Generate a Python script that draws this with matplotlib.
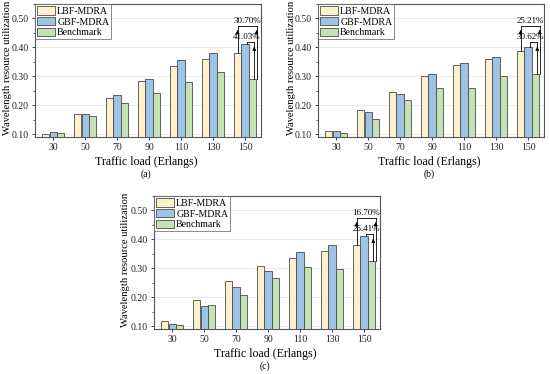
import matplotlib
matplotlib.use("Agg")
import matplotlib.pyplot as plt
from matplotlib.ticker import MultipleLocator
import numpy as np

plt.rcParams['font.family'] = ['Liberation Serif', 'DejaVu Serif']

categories = ['30', '50', '70', '90', '110', '130', '150']
series_names = ['LBF-MDRA', 'GBF-MDRA', 'Benchmark']

a_lbf = [0.100, 0.170, 0.226, 0.285, 0.334, 0.361, 0.382]
a_gbf = [0.106, 0.168, 0.235, 0.292, 0.357, 0.382, 0.410]
a_ben = [0.104, 0.162, 0.208, 0.243, 0.281, 0.314, 0.291]

b_lbf = [0.110, 0.182, 0.245, 0.302, 0.339, 0.360, 0.386]
b_gbf = [0.110, 0.176, 0.238, 0.309, 0.346, 0.368, 0.402]
b_ben = [0.104, 0.153, 0.219, 0.261, 0.259, 0.301, 0.308]

c_lbf = [0.118, 0.189, 0.257, 0.309, 0.336, 0.360, 0.380]
c_gbf = [0.106, 0.168, 0.234, 0.292, 0.356, 0.382, 0.410]
c_ben = [0.105, 0.172, 0.207, 0.267, 0.303, 0.296, 0.325]

a_notes = ['30.70%', '41.03%']
b_notes = ['25.21%', '30.62%']
c_notes = ['16.70%', '26.41%']

colors = ['#fdf1cc', '#9fc3e4', '#c6e2b4']
edge = '#4a4a4a'

W, H = 550, 374
fig = plt.figure(figsize=(5.5, 3.74), dpi=100)


def panel(left_px, top_px, data, notes, letter, ylab_x_px):
    width_px, height_px = 226, 133
    ax = fig.add_axes([left_px / W, (H - top_px - height_px) / H, width_px / W, height_px / H])
    x = np.arange(len(categories))
    bw = 0.23
    off = 0.235
    for i, (vals, c, name) in enumerate(zip(data, colors, series_names)):
        ax.bar(x + (i - 1) * off, vals, bw, color=c, edgecolor=edge, linewidth=0.6,
               label=name, zorder=3)
    ax.set_xlim(-0.57, 6.5)
    ax.set_ylim(0.09, 0.55)
    ax.set_yticks([0.10, 0.20, 0.30, 0.40, 0.50])
    ax.set_yticklabels(['0.10', '0.20', '0.30', '0.40', '0.50'])
    ax.yaxis.set_minor_locator(MultipleLocator(0.05))
    ax.set_xticks(x)
    ax.set_xticklabels(categories)
    ax.grid(axis='y', color='#e6e6e6', linewidth=0.6, zorder=0)
    ax.tick_params(labelsize=7, length=2.5, width=0.6, colors='#222222', pad=2)
    ax.tick_params(which='minor', length=1.5, width=0.5, colors='#222222')
    for s in ax.spines.values():
        s.set_color('#555555')
        s.set_linewidth(0.8)
    leg = ax.legend(loc='upper left', fontsize=7.1, frameon=True, fancybox=False,
                    edgecolor='#555555', borderpad=0.2, labelspacing=0.12,
                    handlelength=1.75, handleheight=0.9, handletextpad=0.25,
                    borderaxespad=0.05)
    leg.get_frame().set_linewidth(0.6)
    # annotations
    lbf, gbf, ben = data[0][-1], data[1][-1], data[2][-1]
    xi = len(categories) - 1
    x_l = xi - off
    x_g = xi + 0.05
    x_b1 = xi + 0.36
    x_b2 = xi + 0.29
    y1 = 0.475
    y2 = 0.418
    lw = 0.6
    ax.plot([x_l, x_l], [lbf, y1], color='black', lw=lw, zorder=4)
    ax.plot([x_b1, x_b1], [ben, y1], color='black', lw=lw, zorder=4)
    ax.plot([x_l, x_b1], [y1, y1], color='black', lw=lw, zorder=4)
    for xx in (x_l, x_b1):
        ax.annotate('', xy=(xx, y1 - 0.006), xytext=(xx, y1 - 0.03),
                    arrowprops=dict(arrowstyle='-|>', color='black', lw=lw,
                                    mutation_scale=5), zorder=5)
    ax.text((x_l + x_b1) / 2, y1 + 0.004, notes[0], fontsize=6.5, ha='center', va='bottom')
    ax.plot([x_g, x_g], [gbf, y2], color='black', lw=lw, zorder=4)
    ax.plot([x_b2, x_b2], [ben, y2], color='black', lw=lw, zorder=4)
    ax.plot([x_g, x_b2], [y2, y2], color='black', lw=lw, zorder=4)
    ax.annotate('', xy=(x_b2, y2 - 0.006), xytext=(x_b2, y2 - 0.03),
                arrowprops=dict(arrowstyle='-|>', color='black', lw=lw,
                                mutation_scale=5), zorder=5)
    ax.text((x_l + x_b1) / 2, y2 + 0.004, notes[1], fontsize=6.5, ha='center', va='bottom')
    # labels
    fig.text(ylab_x_px / W, (H - (top_px + 64)) / H,
             'Wavelength resource utilization', rotation=90, fontsize=7.6,
             ha='center', va='center')
    cx = (left_px + width_px / 2 - 2) / W
    fig.text(cx, (H - (top_px + height_px + 25)) / H, 'Traffic load (Erlangs)',
             fontsize=8.6, ha='center', va='center')
    fig.text(cx, (H - (top_px + height_px + 37)) / H, letter, fontsize=7,
             ha='center', va='center')
    return ax


panel(35, 4, [a_lbf, a_gbf, a_ben], a_notes, '(a)', 8)
panel(318, 4, [b_lbf, b_gbf, b_ben], b_notes, '(b)', 291)
panel(154, 196, [c_lbf, c_gbf, c_ben], c_notes, '(c)', 126)

fig.savefig('out.png', dpi=100)
